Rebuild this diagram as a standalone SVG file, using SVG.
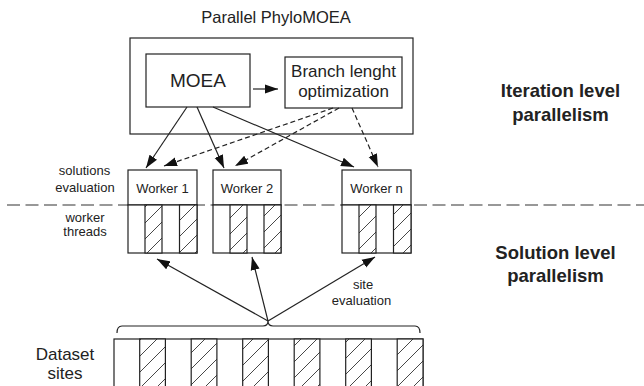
<svg xmlns="http://www.w3.org/2000/svg" width="644" height="386" viewBox="0 0 644 386">
<style>
.box{fill:#fff;stroke:#222;stroke-width:1.2}
.t{font-family:"Liberation Sans",Arial,sans-serif;fill:#222;text-anchor:middle}
.b{font-weight:bold}
.c{fill:none;stroke:#222;stroke-width:1.2}
.d{stroke-dasharray:5,3}
.h{fill:url(#hatch);stroke:#222;stroke-width:1.2}
</style>
<defs>
<marker id="ah" markerUnits="userSpaceOnUse" markerWidth="14" markerHeight="10" refX="13" refY="5" orient="auto">
<path d="M0,0.5 L13,5 L0,9.5 z" fill="#111"/>
</marker>
<pattern id="hatch" patternUnits="userSpaceOnUse" width="16" height="16">
<rect width="16" height="16" fill="#fff"/>
<path d="M0,16 L16,0 M-4,4 L4,-4 M12,20 L20,12" stroke="#333" stroke-width="0.9"/>
</pattern>
</defs>

<g id="title"><text class="t" x="276" y="23" font-size="16.5">Parallel PhyloMOEA</text></g>

<g id="outer"><rect class="box" x="130" y="38" width="283" height="96"/></g>
<g id="moea"><rect class="box" x="146" y="54" width="104" height="53"/><text class="t" x="198" y="87" font-size="19">MOEA</text></g>
<g id="branch"><rect class="box" x="285" y="57" width="117" height="51"/><text class="t" x="343.5" y="77" font-size="17">Branch lenght</text><text class="t" x="343.5" y="97" font-size="17">optimization</text></g>

<g id="separator"><line x1="7" y1="205" x2="644" y2="205" stroke="#333" stroke-width="1.2" stroke-dasharray="13,5.5"/></g>

<g id="worker1">
<rect class="box" x="128" y="170" width="69" height="35"/><text class="t" x="162.5" y="193" font-size="13">Worker 1</text>
<rect class="box" x="128" y="205" width="69" height="48"/>
<rect class="h" x="145" y="205" width="17" height="48"/><rect class="h" x="179.5" y="205" width="17.5" height="48"/>
</g>
<g id="worker2">
<rect class="box" x="213" y="170" width="68" height="35"/><text class="t" x="247" y="193" font-size="13">Worker 2</text>
<rect class="box" x="213" y="205" width="68" height="48"/>
<rect class="h" x="230" y="205" width="17" height="48"/><rect class="h" x="264" y="205" width="17" height="48"/>
</g>
<g id="workern">
<rect class="box" x="342" y="170" width="69" height="35"/><text class="t" x="376.5" y="193" font-size="13">Worker n</text>
<rect class="box" x="342" y="205" width="69" height="48"/>
<rect class="h" x="359" y="205" width="17" height="48"/><rect class="h" x="393.5" y="205" width="17.5" height="48"/>
</g>

<g id="dataset">
<rect class="box" x="114" y="339" width="309" height="60"/>
<rect class="h" x="139.7" y="339" width="25.7" height="60"/>
<rect class="h" x="191.2" y="339" width="25.7" height="60"/>
<rect class="h" x="242.7" y="339" width="25.7" height="60"/>
<rect class="h" x="294.2" y="339" width="25.7" height="60"/>
<rect class="h" x="345.7" y="339" width="25.7" height="60"/>
<rect class="h" x="397.2" y="339" width="25.8" height="60"/>
</g>
<g id="brace"><path class="c" d="M117,333 Q117,326 122,326 L263,326 Q268,326 268,321 Q268,326 273,326 L415,326 Q420,326 420,333"/></g>

<g id="labels">
<text class="t" x="84.5" y="175" font-size="13">solutions</text>
<text class="t" x="85" y="191.5" font-size="13">evaluation</text>
<text class="t" x="85" y="221.5" font-size="13">worker</text>
<text class="t" x="85" y="236" font-size="13">threads</text>
<text class="t" x="363" y="289" font-size="13">site</text>
<text class="t" x="361.5" y="305" font-size="13">evaluation</text>
<text class="t" x="65" y="360" font-size="17">Dataset</text>
<text class="t" x="65" y="379" font-size="17">sites</text>
<text class="t b" x="560.5" y="97" font-size="18.5">Iteration level</text>
<text class="t b" x="560.5" y="121" font-size="18.5">parallelism</text>
<text class="t b" x="555.5" y="259" font-size="18.5">Solution level</text>
<text class="t b" x="555.5" y="282" font-size="18.5">parallelism</text>
</g>

<g id="connectors">
<line class="c" x1="253" y1="89" x2="278" y2="89" marker-end="url(#ah)"/>
<line class="c" x1="187" y1="107" x2="146" y2="168" marker-end="url(#ah)"/>
<line class="c" x1="197" y1="107" x2="224" y2="168" marker-end="url(#ah)"/>
<line class="c" x1="213" y1="107" x2="354" y2="167" marker-end="url(#ah)"/>
<line class="c d" x1="333" y1="108" x2="164" y2="166" marker-end="url(#ah)"/>
<line class="c d" x1="339" y1="108" x2="235" y2="166" marker-end="url(#ah)"/>
<line class="c d" x1="352" y1="108" x2="378" y2="167" marker-end="url(#ah)"/>
<line class="c" x1="268" y1="321" x2="157" y2="259" marker-end="url(#ah)"/>
<line class="c" x1="268" y1="321" x2="252" y2="257" marker-end="url(#ah)"/>
<line class="c" x1="268" y1="321" x2="375" y2="257" marker-end="url(#ah)"/>
</g>
</svg>
